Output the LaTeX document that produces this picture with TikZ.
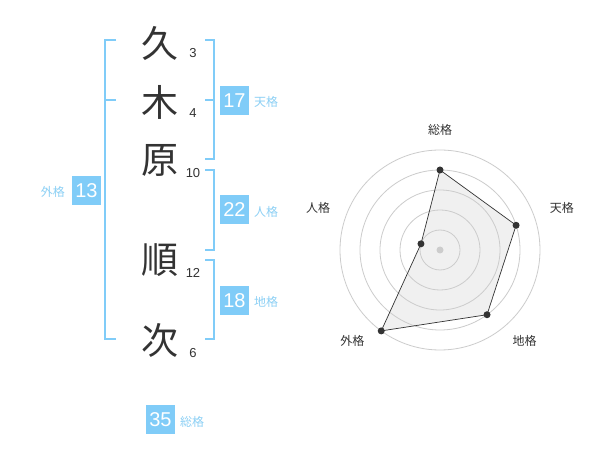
\documentclass[tikz,border=0pt]{standalone}
\usepackage{fontspec}
\setmainfont{Liberation Sans}
\newfontfamily\jp{Noto Sans CJK JP}
\definecolor{sky}{RGB}{128,204,248}
\definecolor{skytxt}{RGB}{140,208,245}
\definecolor{ink}{RGB}{51,51,51}
\begin{document}
\begin{tikzpicture}[x=1pt,y=-1pt,
  kanji/.style={font=\jp\fontsize{37}{37}\selectfont, text=ink, inner sep=0},
  strokes/.style={font=\fontsize{13}{13}\selectfont, text=ink, inner sep=0},
  scorebox/.style={fill=sky, text=white, minimum width=29pt, minimum height=29pt, inner sep=0, font=\fontsize{20}{20}\selectfont},
  kaku/.style={font=\jp\fontsize{12}{12}\selectfont, text=skytxt, inner sep=0},
  bracket/.style={draw=sky, line width=2pt},
  ring/.style={draw=black!20, line width=0.8pt},
  axislabel/.style={font=\jp\fontsize{12}{12}\selectfont, text=ink, inner sep=0},
  datadot/.style={circle, fill=ink, inner sep=0, minimum size=7pt}]
\useasboundingbox[fill=white] (0,0) rectangle (600,470);

% name characters
\node[kanji] (k1) at (160,43) {久};
\node[kanji] (k2) at (160,102) {木};
\node[kanji] (k3) at (160,160) {原};
\node[kanji] (k4) at (160,260) {順};
\node[kanji] (k5) at (160,340) {次};

% stroke counts
\node[strokes] (s1) at (193,53) {3};
\node[strokes] (s2) at (193,113) {4};
\node[strokes] (s3) at (193,173) {10};
\node[strokes] (s4) at (193,273) {12};
\node[strokes] (s5) at (193,353) {6};

% brackets
\draw[bracket] (116,40) -- (105,40) -- (105,339) -- (116,339);
\draw[bracket] (105,100) -- (116,100);
\draw[bracket] (205,40) -- (214,40) -- (214,159) -- (205,159);
\draw[bracket] (205,100) -- (214,100);
\draw[bracket] (205,170) -- (214,170) -- (214,250) -- (205,250);
\draw[bracket] (205,260) -- (214,260) -- (214,339) -- (205,339);

% scores
\node[scorebox] (ten) at (234.5,100.5) {17};
\node[kaku, anchor=west] (tenl) at (254,102) {天格};
\node[scorebox] (jin) at (234.5,210) {22};
\node[kaku, anchor=west] (jinl) at (254,212) {人格};
\node[scorebox] (chi) at (234.5,300.5) {18};
\node[kaku, anchor=west] (chil) at (254,302) {地格};
\node[scorebox] (gai) at (86.5,190.5) {13};
\node[kaku, anchor=east] (gail) at (65,192) {外格};
\node[scorebox] (sou) at (160.5,419.5) {35};
\node[kaku, anchor=west] (soul) at (180,422) {総格};

% radar chart
\begin{scope}[shift={(440,250)}, yscale=-1]
  \coordinate (c) at (0,0);
  \coordinate (pSou) at (90:80);
  \coordinate (pTen) at (18:80);
  \coordinate (pChi) at (-54:80);
  \coordinate (pGai) at (-126:100);
  \coordinate (pJin) at (162:20);
  \fill[black!6] (pSou) -- (pTen) -- (pChi) -- (pGai) -- (pJin) -- cycle;
  \foreach \r in {20,40,60,80,100} \draw[ring] (c) circle[radius=\r];
  \fill[black!20] (c) circle[radius=3.5];
  \draw[draw=ink, line width=0.7pt]
    (pSou) -- (pTen) -- (pChi) -- (pGai) -- (pJin) -- cycle;
  \foreach \p in {pSou,pTen,pChi,pGai,pJin} \node[datadot] at (\p) {};
  \node[axislabel] (lSou) at (90:120) {総格};
  \node[axislabel] (lTen) at (19:129) {天格};
  \node[axislabel] (lChi) at (-47:124) {地格};
  \node[axislabel] (lGai) at (-134:126) {外格};
  \node[axislabel] (lJin) at (161:129) {人格};
\end{scope}
\end{tikzpicture}
\end{document}
